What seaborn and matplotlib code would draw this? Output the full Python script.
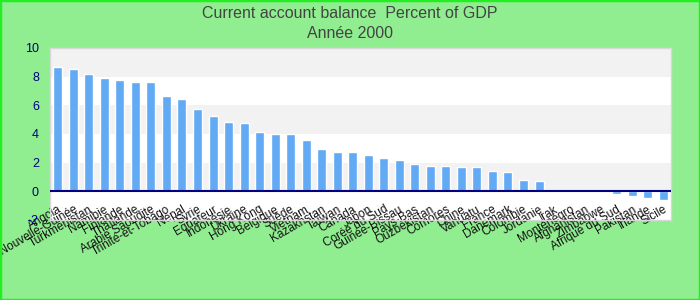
import matplotlib
matplotlib.use("Agg")
import matplotlib.pyplot as plt
import seaborn as sns
import pandas as pd
from matplotlib.patches import Rectangle

countries = ["Angola", "Papouasie-Nouvelle-Guinée", "Turkménistan", "Namibie", "Finlande",
             "Thaïlande", "Arabie Saoudite", "Trinité-et-Tobago", "Népal", "Syrie",
             "Equateur", "Indonésie", "Ukraine", "Hong Kong", "Belgique",
             "Suède", "Vietnam", "Kazakhstan", "Taïwan", "Canada",
             "Japon", "Corée du Sud", "Guinée-Bissau", "Pays-Bas", "Ouzbékistan",
             "Comores", "Chine", "Vanuatu", "France", "Danemark",
             "Colombie", "Jordanie", "Irak", "Monténégro", "Afghanistan",
             "Zimbabwe", "Afrique du Sud", "Pakistan", "Irlande", "Sicile"]
values = [8.67, 8.53, 8.18, 7.9, 7.76,
          7.62, 7.62, 6.64, 6.43, 5.73,
          5.24, 4.83, 4.76, 4.13, 3.99,
          3.99, 3.57, 2.94, 2.73, 2.73,
          2.52, 2.31, 2.17, 1.89, 1.75,
          1.75, 1.68, 1.68, 1.4, 1.33,
          0.77, 0.72, 0.0, 0.0, 0.0,
          0.0, -0.2, -0.32, -0.46, -0.6]
yticks = [-2, 0, 2, 4, 6, 8, 10]
title_line1 = "Current account balance  Percent of GDP"
title_line2 = "Année 2000"

sns.set_style("white")
plt.rcParams['font.family'] = ['Liberation Sans', 'DejaVu Sans']

df = pd.DataFrame({"pays": countries, "valeur": values})

fig = plt.figure(figsize=(7, 3), dpi=100, facecolor="#90EE90")
ax = fig.add_axes([50/700, 80/300, 621/700, 172/300])
ax.set_facecolor("white")

for lo in (0, 4, 8):
    ax.axhspan(lo, lo + 2, color="#F2F2F2", zorder=0, lw=0)

sns.barplot(data=df, x="pays", y="valeur", color="#62AAF4", saturation=1,
            width=0.58, ax=ax, zorder=2)
ax.axhline(0, color="#000080", lw=1.5, zorder=3)

ax.set_ylim(-2, 10)
ax.set_yticks(yticks)
ax.set_yticklabels([str(t) for t in yticks])
ax.set_xlabel("")
ax.set_ylabel("")
ax.tick_params(axis="y", length=0, pad=8, labelsize=9, labelcolor="#000080")
ax.tick_params(axis="x", length=0, pad=-12, labelsize=8.5, labelcolor="#111111")
for lab in ax.get_xticklabels():
    lab.set_rotation(30)
    lab.set_ha("right")
    lab.set_va("top")
    lab.set_rotation_mode("anchor")
    lab.set_zorder(5)

for s in ax.spines.values():
    s.set_color("#D8D8D8")
    s.set_linewidth(1)

fig.text(0.5, 1 - 13/300, title_line1, ha="center", va="center", fontsize=11.5, color="#444444")
fig.text(0.5, 1 - 33/300, title_line2, ha="center", va="center", fontsize=11.5, color="#444444")

fig.patches.append(Rectangle((0, 0), 1, 1, transform=fig.transFigure, fill=False,
                             edgecolor="#22EE22", lw=2.5, zorder=10))

fig.savefig("out.png", dpi=100, facecolor=fig.get_facecolor())
